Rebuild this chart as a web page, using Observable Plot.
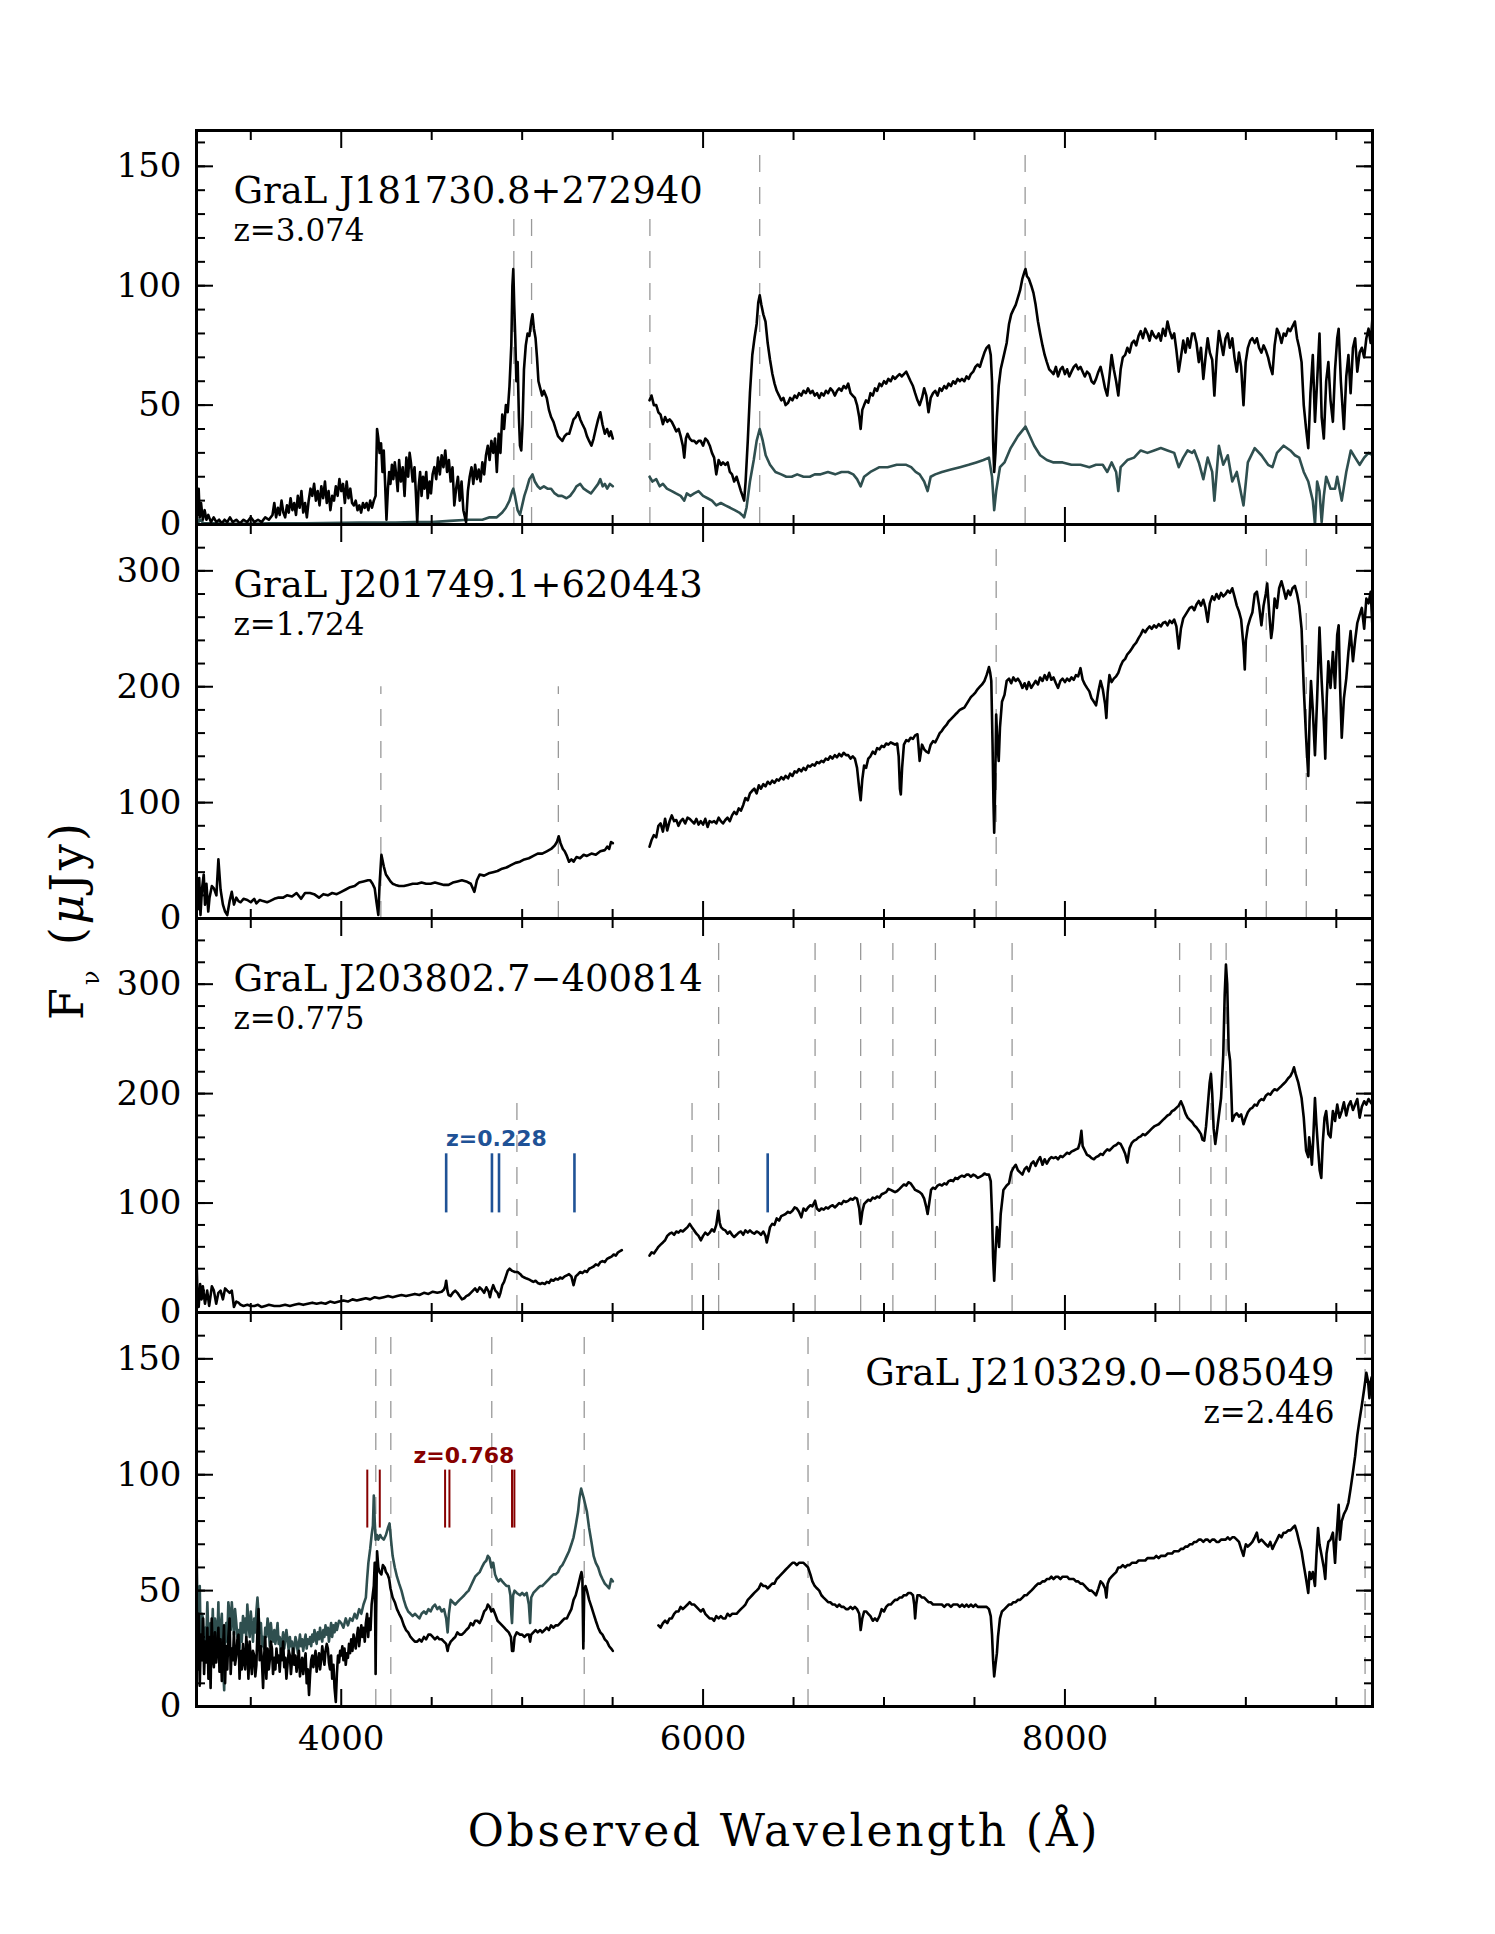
<!DOCTYPE html>
<html><head><meta charset="utf-8">
<script src="https://cdn.jsdelivr.net/npm/d3@7"></script>
<script src="https://cdn.jsdelivr.net/npm/@observablehq/plot@0.6"></script>
<style>
body{margin:0;background:#fff;}
#wrap{position:relative;width:1495px;height:1934px;background:#fff;}
#wrap svg{position:absolute;left:0;overflow:visible;}
.ttl{position:absolute;font-family:"DejaVu Serif";color:#000;white-space:nowrap;}
</style></head><body><div id="wrap">
<div class="ttl" id="xtitle" style="left:196px;top:1809px;width:1176px;text-align:center;font-size:44px;line-height:1;letter-spacing:2.8px;"></div>
<div style="position:absolute;left:73px;top:920px;width:0;height:0;"><div class="ttl" id="ytitle" style="left:0;top:0;font-size:46px;line-height:1;letter-spacing:3px;transform:translate(-50%,-50%) rotate(-90deg);"></div></div>
</div>
<script>
// ---------- text ----------
const xTitle = "Observed Wavelength (Å)";
const names = ["GraL J181730.8+272940", "GraL J201749.1+620443", "GraL J203802.7\u2212400814", "GraL J210329.0\u2212085049"];
const redshifts = ["z=3.074", "z=1.724", "z=0.775", "z=2.446"];

// ---------- axes ----------
const xDomain = [3200, 9700];
const xMajor = [4000, 6000, 8000];
const xMinor = [3500, 4500, 5000, 5500, 6500, 7000, 7500, 8500, 9000, 9500];
const yMax = [165, 340, 360, 170];
const yMajor = [[0, 50, 100, 150], [0, 100, 200, 300], [0, 100, 200, 300], [0, 50, 100, 150]];
const yMinorStep = [10, 20, 20, 10];

// ---------- dashed emission-line markers (wavelength, top flux) ----------
const p1DashWave = [4954, 5052, 5706, 6313, 7780];
const p1DashTop  = [130, 130, 130, 160, 160];
const p2DashWave = [4219, 5200, 7620, 9113, 9334];
const p2DashTop  = [200, 200, 328, 328, 328];
const p3DashWave = [4971, 5939, 6086, 6619, 6871, 7049, 7284, 7708, 8634, 8807, 8891];
const p3DashTop  = [197, 197, 347, 347, 347, 347, 347, 347, 347, 347, 347];
const p4DashWave = [4191, 4274, 4832, 5343, 6580, 9659];
const p4DashTop  = [164, 164, 164, 164, 164, 164];

// ---------- intervening absorber markers ----------
const absBlueWave = [4580, 4833, 4872, 5289, 6357];
const absBlueSpan = [91, 145];
const absBlueLabel = {w: 4858, f: 152, t: "z=0.228"};
const absRedWave = [4144, 4213, 4574, 4598, 4944, 4957];
const absRedSpan = [77, 102];
const absRedLabel = {w: 4678, f: 105, t: "z=0.768"};

// ---------- spectra: [wavelength, flux, ...] ----------
const p1BlackBlue = [3200,12,3205,4,3212,15,3218,3,3225,9,3235,2,3245,6,3255,2,3265,4,3280,1,3295,3,3310,1,3325,2,3340,0.5,3355,2,3370,1,3385,3,3400,1,3420,2,3440,0.5,3460,2,3480,1,3500,3,3520,1,3540,2,3560,1,3580,3,3600,2,3620,4,3630,9,3640,3,3650,7,3660,4,3670,10,3680,5,3690,3,3700,8,3710,5,3720,11,3730,6,3740,9,3750,4,3760,12,3770,7,3780,14,3790,5,3800,9,3810,3,3820,10,3830,15,3840,12,3850,17,3860,10,3870,14,3880,8,3890,16,3900,11,3910,18,3920,9,3930,14,3940,6,3950,12,3960,10,3970,16,3980,12,3990,19,4000,14,4010,17,4020,9,4030,18,4040,11,4050,15,4060,9,4070,8,4080,10,4090,6,4100,8,4110,5,4120,9,4130,7,4140,9,4150,6,4160,10,4170,7,4180,10,4190,12,4198,40,4205,36,4212,30,4220,34,4228,22,4235,31,4242,18,4250,2,4258,15,4265,22,4272,17,4280,25,4288,19,4296,26,4305,20,4312,14,4320,27,4330,18,4340,24,4350,12,4360,28,4370,20,4378,30,4385,26,4395,18,4405,24,4412,14,4420,1,4428,16,4436,22,4444,12,4452,20,4460,15,4470,22,4478,11,4488,18,4496,13,4505,21,4515,24,4525,19,4535,28,4545,21,4555,29,4565,24,4575,31,4585,22,4595,27,4605,18,4615,24,4625,8,4635,15,4645,20,4655,10,4665,18,4675,6,4690,1,4700,14,4710,20,4720,24,4730,17,4740,25,4750,19,4760,23,4770,18,4780,26,4790,21,4800,29,4810,33,4820,27,4830,35,4840,30,4850,36,4860,22,4870,38,4880,30,4890,46,4900,40,4910,50,4920,47,4930,58,4940,75,4946,100,4951,107,4956,92,4962,78,4968,60,4975,68,4982,45,4988,33,4995,31,5002,42,5010,65,5020,75,5030,80,5040,79,5050,85,5057,88,5065,82,5074,78,5082,70,5090,60,5100,57,5110,54,5120,56,5136,53,5148,48,5160,45,5173,43,5185,40,5198,37,5210,36,5222,35,5235,37,5248,38,5260,38,5272,41,5284,44,5296,45,5309,47,5321,44,5333,42,5346,40,5358,37,5370,35,5383,33,5395,36,5407,40,5420,44,5432,47,5444,42,5457,38,5469,40,5481,37,5490,39,5501,36];
const p1BlackRed = [5704,52,5715,54,5728,50,5741,50,5753,47,5765,46,5778,42,5790,45,5802,43,5815,44,5827,43,5840,41,5852,39,5865,40,5876,37,5888,33,5896,28,5905,36,5914,38,5926,36,5938,35,5951,35,5963,34,5975,35,5987,35,6000,33,6012,36,6025,35,6037,33,6049,30,6061,28,6073,21,6086,27,6099,25,6110,26,6123,25,6136,26,6148,22,6160,21,6172,18,6185,20,6197,17,6209,14,6218,12,6227,10,6235,18,6247,35,6259,55,6272,71,6284,78,6296,84,6305,93,6313,96,6322,92,6333,88,6345,85,6357,76,6370,69,6383,63,6395,59,6407,56,6420,54,6432,52,6444,53,6456,50,6470,51,6481,53,6494,52,6506,54,6518,53,6530,55,6543,54,6555,56,6568,55,6580,57,6593,55,6605,56,6617,54,6630,55,6642,53,6654,55,6667,54,6679,56,6691,55,6704,57,6716,56,6728,54,6741,56,6752,57,6765,56,6777,58,6790,57,6802,59,6815,55,6827,54,6839,53,6851,50,6863,45,6871,40,6880,48,6890,50,6901,52,6913,51,6925,55,6938,54,6950,57,6962,56,6975,59,6987,58,7000,60,7012,59,7024,61,7037,60,7049,62,7061,61,7073,62,7086,63,7098,62,7110,63,7123,64,7135,62,7147,60,7160,58,7172,55,7185,52,7197,50,7210,53,7222,57,7234,54,7246,47,7258,53,7271,55,7283,56,7296,54,7308,57,7320,56,7333,58,7345,57,7357,59,7370,58,7382,60,7394,59,7407,61,7419,60,7431,61,7444,60,7456,62,7468,61,7480,63,7493,64,7505,66,7518,67,7530,66,7542,69,7555,72,7567,74,7580,75,7590,71,7597,60,7603,35,7609,22,7616,30,7624,45,7634,58,7645,65,7660,70,7678,76,7691,84,7703,88,7715,90,7728,92,7740,95,7752,98,7765,103,7777,106,7782,107,7790,104,7800,103,7814,100,7826,97,7838,92,7851,85,7863,80,7876,75,7888,71,7900,68,7913,65,7925,64,7937,63,7950,66,7962,62,7975,65,7987,66,8000,63,8012,65,8024,62,8036,64,8049,66,8061,67,8073,65,8086,66,8098,64,8110,62,8122,64,8135,63,8147,60,8160,59,8172,61,8185,64,8197,66,8209,62,8222,57,8234,54,8246,62,8258,71,8270,65,8283,60,8295,54,8308,65,8320,70,8333,71,8345,74,8357,72,8370,76,8382,77,8394,75,8407,79,8419,81,8431,78,8444,82,8456,80,8468,77,8480,81,8493,79,8505,78,8518,80,8530,77,8542,82,8555,79,8567,85,8579,81,8592,78,8604,80,8616,73,8629,64,8641,70,8654,77,8666,72,8678,78,8690,74,8703,80,8715,80,8727,76,8740,68,8752,74,8765,61,8777,70,8789,78,8801,72,8814,69,8826,54,8838,70,8851,81,8863,76,8875,71,8888,78,8900,80,8912,74,8925,78,8937,70,8950,64,8962,72,8974,66,8987,50,8999,68,9011,74,9024,77,9036,78,9049,76,9061,78,9073,74,9086,72,9098,75,9110,73,9123,70,9135,66,9147,63,9159,75,9172,82,9184,80,9197,76,9209,80,9221,79,9234,82,9246,81,9258,83,9271,85,9283,78,9295,74,9308,68,9320,50,9333,40,9345,32,9357,55,9370,71,9382,43,9394,60,9407,80,9419,45,9431,36,9444,60,9456,68,9468,52,9481,43,9493,65,9505,78,9513,82,9525,60,9542,40,9555,62,9567,71,9579,55,9592,74,9604,78,9616,64,9629,72,9641,74,9654,70,9666,78,9678,82,9690,76,9700,87];
const p1TealBlue = [3200,4,3210,1,3220,2,3240,0.5,3300,0.5,3400,0.3,3500,0.3,3600,0.5,3700,0.5,3800,0.5,3900,0.6,4000,0.7,4100,0.8,4200,0.8,4300,0.8,4400,1,4500,1,4600,1.5,4700,2,4780,2,4820,3,4860,3,4890,5,4910,7,4930,10,4945,14,4951,15,4960,12,4975,6,4988,4,5000,8,5012,12,5025,15,5040,19,5057,21,5070,18,5086,16,5100,15,5120,16,5140,15,5160,15,5180,13,5200,12,5220,12,5245,11,5265,12,5285,14,5300,16,5321,17,5340,15,5360,14,5380,13,5400,15,5420,17,5432,19,5445,16,5457,17,5470,15,5485,17,5501,16];
const p1TealRed = [5704,20,5720,18,5741,19,5760,16,5778,17,5800,15,5827,14,5850,13,5876,12,5896,10,5910,13,5930,12,5951,13,5975,14,6000,12,6025,11,6049,10,6073,8,6098,9,6123,8,6150,7,6175,6,6200,5,6215,4,6227,3,6240,7,6259,18,6280,27,6296,35,6313,40,6330,35,6346,29,6370,25,6400,22,6432,21,6460,20,6490,20,6520,21,6555,20,6590,20,6617,21,6650,21,6690,22,6730,21,6765,22,6802,22,6830,21,6851,19,6871,16,6890,20,6925,22,6975,24,7020,24,7070,25,7123,25,7150,24,7175,22,7197,21,7222,18,7241,14,7258,20,7283,21,7320,22,7370,23,7420,24,7468,25,7510,26,7550,27,7580,28,7597,20,7609,6,7620,14,7641,24,7666,26,7700,32,7740,37,7782,41,7800,38,7830,33,7863,29,7900,27,7937,26,7987,26,8036,25,8086,25,8135,24,8172,25,8209,25,8234,22,8258,26,8283,22,8295,14,8308,24,8345,27,8382,28,8419,31,8456,30,8493,31,8530,32,8567,31,8604,30,8629,24,8654,28,8678,31,8703,30,8715,31,8740,26,8765,19,8789,28,8814,22,8826,10,8851,33,8875,25,8900,29,8925,18,8950,22,8987,8,9011,26,9049,32,9086,29,9123,25,9147,24,9172,30,9209,33,9246,31,9271,29,9295,28,9320,22,9345,18,9370,10,9382,0,9394,18,9407,14,9419,1,9431,12,9444,20,9468,15,9493,15,9505,20,9530,10,9555,22,9580,31,9604,28,9629,25,9654,28,9678,30,9700,29];

const p2BlackBlue = [3200,40,3208,8,3215,35,3222,3,3230,25,3240,38,3247,12,3255,30,3265,6,3272,18,3285,28,3296,26,3310,20,3321,51,3333,25,3346,12,3358,6,3370,3,3383,15,3395,23,3407,12,3420,18,3432,15,3444,14,3460,17,3481,16,3500,14,3519,17,3531,13,3550,16,3568,15,3590,14,3605,15,3630,17,3650,18,3679,18,3700,20,3728,19,3753,22,3778,17,3800,22,3827,22,3850,21,3877,18,3901,21,3926,20,3950,22,3975,21,4000,23,4025,25,4049,27,4074,28,4099,31,4123,32,4148,33,4160,33,4173,30,4185,26,4195,14,4205,3,4212,30,4222,55,4235,45,4247,38,4260,35,4272,32,4284,30,4300,29,4320,28,4346,28,4370,29,4395,30,4420,30,4444,31,4469,30,4494,30,4518,31,4543,30,4568,29,4593,29,4617,31,4642,32,4667,33,4691,32,4716,30,4736,23,4750,33,4765,38,4790,37,4815,39,4839,40,4864,41,4889,43,4913,44,4938,46,4963,48,4988,49,5012,51,5037,52,5062,54,5086,56,5111,56,5136,58,5160,60,5180,63,5192,66,5202,71,5212,65,5225,60,5235,58,5247,54,5259,49,5272,51,5284,49,5300,53,5320,52,5340,55,5358,54,5383,56,5407,55,5432,58,5457,59,5470,62,5481,60,5491,66,5501,65];
const p2BlackRed = [5704,62,5716,68,5728,72,5741,70,5753,80,5765,82,5778,75,5790,86,5802,76,5815,84,5827,89,5840,84,5852,85,5864,80,5876,84,5888,86,5901,82,5914,87,5926,86,5938,84,5951,82,5963,86,5975,81,5987,84,6000,81,6012,86,6025,79,6036,84,6049,83,6061,84,6073,82,6086,87,6098,84,6110,82,6123,85,6135,87,6148,84,6160,89,6172,92,6185,90,6197,95,6209,93,6222,98,6234,104,6247,102,6259,108,6270,110,6283,112,6296,108,6308,115,6320,112,6333,116,6345,114,6357,118,6370,116,6382,119,6394,117,6407,120,6419,119,6432,122,6444,120,6456,123,6470,121,6481,125,6494,123,6506,127,6518,126,6530,129,6543,127,6555,130,6567,128,6580,132,6592,131,6604,133,6617,132,6629,135,6641,134,6654,136,6666,135,6678,138,6691,137,6703,140,6715,138,6728,141,6740,139,6752,142,6765,140,6777,143,6790,141,6802,141,6815,138,6827,140,6839,138,6851,130,6863,112,6871,102,6880,120,6890,132,6901,130,6913,138,6925,140,6938,144,6950,142,6962,147,6975,146,6987,149,7000,148,7012,151,7024,150,7037,152,7049,151,7061,150,7073,151,7081,140,7088,112,7093,107,7100,130,7110,150,7123,154,7135,153,7147,156,7160,155,7172,158,7185,159,7190,150,7197,136,7210,150,7222,146,7234,144,7246,143,7258,150,7271,153,7283,152,7296,156,7308,160,7320,162,7333,165,7345,167,7357,170,7370,172,7382,174,7394,176,7407,178,7419,180,7431,181,7444,182,7456,185,7468,188,7480,191,7493,193,7505,195,7518,198,7530,200,7542,202,7555,205,7567,210,7575,214,7580,217,7587,212,7593,205,7600,150,7605,100,7609,74,7614,110,7620,176,7627,150,7634,136,7641,165,7652,187,7666,193,7678,205,7691,207,7703,203,7715,208,7728,205,7740,207,7752,204,7765,199,7777,203,7789,198,7800,204,7814,199,7826,202,7838,205,7851,202,7863,208,7876,205,7888,210,7900,206,7913,212,7925,206,7937,208,7950,203,7962,199,7975,205,7987,207,8000,204,8012,207,8024,205,8036,208,8049,206,8061,210,8073,209,8086,216,8098,206,8110,202,8122,199,8135,196,8147,190,8160,187,8172,184,8185,196,8197,205,8209,198,8222,185,8229,173,8236,195,8246,210,8258,204,8270,207,8283,209,8295,212,8308,218,8320,222,8333,224,8345,228,8357,230,8370,233,8382,236,8394,238,8407,242,8419,245,8431,249,8444,247,8456,250,8468,252,8480,250,8493,253,8505,251,8518,254,8530,252,8542,255,8555,256,8567,253,8579,257,8592,255,8604,258,8616,252,8629,233,8641,250,8654,259,8666,262,8678,265,8690,268,8703,269,8715,266,8727,271,8740,274,8752,270,8765,275,8777,268,8789,256,8801,272,8814,278,8826,275,8838,280,8851,276,8863,281,8875,278,8888,280,8900,283,8912,281,8925,285,8937,278,8950,270,8962,265,8974,258,8987,235,8994,215,9000,240,9011,252,9024,259,9036,264,9049,280,9061,282,9073,270,9086,253,9098,270,9110,280,9118,289,9130,262,9140,242,9147,250,9159,276,9172,268,9184,285,9197,291,9209,284,9221,276,9234,283,9246,279,9258,285,9271,287,9283,280,9295,270,9308,250,9320,199,9333,156,9345,123,9352,170,9360,205,9370,180,9382,141,9394,190,9407,251,9419,205,9431,170,9439,138,9447,190,9456,222,9468,199,9481,230,9493,199,9505,245,9513,253,9521,200,9530,156,9542,190,9555,207,9567,230,9579,248,9592,222,9604,240,9616,255,9629,262,9641,268,9654,250,9666,276,9678,272,9690,282,9700,251];

const p3BlackBlue = [3200,50,3206,10,3212,5,3220,26,3228,12,3235,24,3247,8,3259,20,3270,6,3285,24,3296,20,3309,8,3321,18,3333,20,3346,12,3358,22,3370,20,3383,18,3395,20,3407,5,3420,10,3432,9,3444,7,3460,6,3481,7,3500,6,3520,6,3540,7,3560,5,3580,6,3600,7,3630,6,3660,6,3690,7,3716,6,3741,7,3766,8,3790,7,3815,8,3840,9,3864,8,3889,9,3913,8,3938,10,3963,9,3988,10,4012,11,4037,10,4062,12,4086,11,4111,12,4136,13,4160,12,4185,14,4210,13,4235,14,4259,15,4284,14,4309,15,4333,16,4358,15,4383,16,4407,17,4432,16,4457,18,4482,17,4506,19,4531,18,4555,19,4568,21,4575,24,4580,29,4587,20,4593,16,4605,15,4617,18,4630,20,4642,18,4654,15,4667,12,4680,13,4691,15,4704,16,4716,18,4728,20,4740,22,4752,19,4765,23,4777,21,4790,18,4802,23,4815,19,4822,14,4830,20,4840,25,4852,20,4864,18,4872,14,4880,18,4890,25,4900,28,4910,33,4920,38,4931,40,4945,38,4960,37,4975,37,4990,35,5000,33,5012,32,5025,31,5040,30,5050,29,5062,28,5074,29,5086,27,5100,26,5111,27,5125,26,5136,28,5148,27,5160,30,5173,29,5185,31,5198,30,5210,32,5222,31,5235,33,5247,34,5259,35,5272,33,5284,25,5296,33,5309,35,5321,37,5333,36,5346,38,5358,37,5370,40,5383,41,5395,42,5407,44,5420,43,5432,46,5444,47,5457,46,5469,49,5481,50,5494,51,5506,53,5518,52,5530,55,5541,56,5551,57];
const p3BlackRed = [5704,52,5716,55,5728,54,5741,57,5753,60,5765,62,5778,64,5790,66,5802,70,5815,72,5827,73,5840,71,5852,74,5864,73,5876,75,5888,74,5901,76,5914,78,5926,81,5938,78,5951,75,5963,72,5975,70,5988,66,6000,70,6012,73,6025,71,6037,73,6049,76,6061,74,6073,80,6084,93,6092,82,6099,78,6111,76,6123,75,6136,72,6148,74,6160,71,6172,69,6185,71,6197,73,6209,74,6222,71,6234,75,6247,73,6259,75,6272,73,6283,72,6296,74,6308,73,6320,71,6333,74,6345,70,6352,64,6360,70,6370,78,6382,81,6394,80,6407,86,6420,84,6432,88,6444,89,6456,90,6469,92,6481,91,6494,93,6506,96,6518,95,6530,92,6543,87,6555,95,6568,93,6580,96,6593,98,6604,97,6619,102,6629,95,6642,93,6654,95,6667,94,6679,96,6691,95,6703,97,6716,98,6728,96,6741,98,6752,100,6765,99,6777,102,6790,101,6802,102,6815,104,6827,103,6839,105,6851,104,6863,95,6871,81,6880,92,6890,99,6901,101,6913,103,6925,102,6938,105,6950,104,6962,106,6975,105,6987,108,7000,109,7012,110,7024,113,7037,112,7049,111,7061,110,7073,111,7086,113,7098,115,7110,117,7123,116,7135,119,7147,118,7160,115,7172,112,7185,111,7197,110,7210,108,7222,104,7234,96,7241,90,7250,100,7260,112,7271,114,7283,113,7296,116,7308,117,7320,116,7333,118,7345,117,7357,120,7370,121,7382,120,7394,123,7407,122,7419,124,7431,125,7444,124,7456,126,7468,126,7480,124,7493,126,7505,125,7518,123,7530,124,7542,125,7555,127,7567,126,7580,126,7590,120,7597,90,7603,50,7609,29,7616,55,7624,78,7630,72,7636,60,7645,90,7660,112,7678,116,7691,118,7703,128,7715,132,7728,135,7740,130,7752,128,7765,126,7777,131,7789,133,7800,129,7814,136,7826,138,7838,134,7851,139,7863,142,7876,135,7888,140,7900,136,7913,140,7925,142,7937,141,7950,142,7962,140,7975,143,7987,142,8000,144,8012,146,8024,145,8036,147,8049,148,8061,149,8073,150,8082,155,8091,166,8098,152,8110,148,8122,144,8135,143,8147,141,8160,140,8172,142,8185,143,8197,145,8209,144,8222,147,8234,149,8246,148,8258,150,8270,152,8283,153,8295,155,8308,154,8320,150,8333,145,8345,137,8357,150,8370,155,8382,157,8394,158,8407,160,8419,161,8431,163,8444,162,8456,164,8468,166,8480,168,8493,170,8505,171,8518,172,8530,174,8542,176,8555,178,8567,180,8579,181,8592,184,8604,185,8616,187,8629,189,8641,193,8654,188,8666,182,8678,178,8690,176,8703,174,8715,171,8727,169,8740,166,8752,163,8760,158,8770,157,8780,170,8790,190,8800,210,8807,218,8814,200,8822,168,8831,154,8840,165,8851,180,8863,196,8875,235,8883,290,8890,318,8897,300,8905,240,8913,230,8920,200,8925,175,8937,180,8950,182,8962,179,8974,181,8987,172,8999,178,9011,183,9024,186,9036,187,9049,190,9061,189,9073,193,9086,195,9098,194,9110,198,9123,200,9135,199,9147,202,9159,204,9172,203,9184,205,9197,207,9209,209,9221,211,9234,214,9246,216,9258,220,9266,224,9275,218,9290,210,9308,196,9320,178,9333,148,9345,142,9350,160,9357,150,9365,135,9372,157,9382,196,9390,172,9399,150,9408,130,9417,123,9425,155,9435,178,9444,184,9456,163,9468,160,9481,184,9493,175,9505,190,9518,178,9530,184,9542,192,9555,180,9567,189,9579,193,9592,185,9604,190,9616,195,9629,178,9641,188,9654,193,9666,190,9678,195,9690,192,9700,190];

const p4BlackBlue = [3200,52,3206,16,3212,40,3218,9,3224,31,3230,20,3236,38,3242,14,3248,28,3254,19,3260,34,3266,12,3272,30,3278,8,3284,38,3290,22,3296,17,3302,32,3309,19,3315,26,3321,34,3327,15,3333,29,3340,11,3346,24,3352,35,3358,10,3364,26,3370,16,3376,30,3383,38,3389,14,3395,25,3401,20,3407,32,3413,18,3420,22,3426,29,3432,31,3438,12,3444,24,3450,16,3457,27,3463,19,3469,16,3475,30,3481,25,3487,12,3494,28,3500,20,3506,14,3512,24,3519,22,3525,13,3531,18,3537,33,3543,42,3549,20,3556,26,3562,19,3568,8,3574,22,3580,30,3586,12,3593,25,3600,16,3605,20,3611,28,3617,25,3623,14,3630,21,3636,16,3642,25,3648,19,3654,22,3660,15,3667,25,3673,20,3679,28,3685,17,3691,21,3697,12,3704,19,3710,24,3716,22,3722,14,3728,20,3734,25,3741,18,3747,22,3753,15,3760,20,3766,24,3772,13,3778,18,3784,21,3790,14,3796,19,3803,23,3809,10,3815,16,3822,5,3828,14,3834,20,3840,22,3846,17,3852,21,3858,24,3864,15,3870,19,3877,23,3883,16,3889,20,3895,26,3901,22,3907,18,3913,24,3920,27,3926,25,3932,19,3938,16,3944,22,3950,12,3957,18,3963,8,3970,2,3976,14,3982,22,3988,19,3994,24,4000,22,4006,26,4012,20,4018,25,4025,18,4031,23,4037,21,4043,27,4049,23,4055,29,4062,24,4068,31,4074,28,4080,25,4086,30,4093,34,4099,26,4105,31,4111,35,4117,30,4123,34,4130,28,4136,36,4143,40,4149,30,4155,38,4162,33,4168,44,4174,48,4180,52,4185,62,4188,35,4190,14,4193,40,4198,67,4205,60,4212,58,4222,57,4230,61,4240,60,4247,58,4256,57,4265,55,4272,51,4284,47,4296,45,4308,42,4320,40,4333,38,4346,35,4358,33,4370,32,4383,30,4395,29,4407,28,4420,28,4432,29,4444,28,4457,30,4469,29,4482,31,4494,31,4506,30,4518,29,4531,30,4543,29,4555,29,4568,28,4580,27,4588,24,4593,26,4605,28,4617,29,4630,30,4642,32,4654,31,4667,31,4680,32,4691,33,4704,34,4716,36,4728,35,4740,37,4752,37,4765,36,4777,38,4790,41,4802,42,4810,44,4820,43,4830,41,4840,42,4850,40,4864,37,4877,36,4889,35,4901,34,4913,33,4926,32,4938,30,4944,24,4951,24,4958,30,4970,32,4988,31,5000,31,5012,30,5025,31,5037,31,5044,28,5050,31,5062,32,5074,33,5086,32,5100,33,5111,32,5124,33,5136,34,5148,33,5160,35,5173,34,5185,35,5198,35,5210,36,5222,37,5235,38,5247,38,5259,40,5272,42,5284,46,5296,48,5309,52,5321,56,5328,58,5333,55,5338,25,5343,50,5350,52,5358,50,5370,46,5383,43,5395,40,5407,37,5420,34,5432,32,5444,31,5457,29,5469,28,5481,26,5492,25,5501,24];
const p4BlackRed = [5753,35,5765,34,5778,36,5790,37,5802,36,5815,38,5827,38,5840,40,5852,41,5864,41,5876,43,5888,42,5901,43,5914,44,5926,45,5938,44,5951,44,5963,43,5975,42,5988,41,6000,42,6012,40,6024,39,6036,38,6049,38,6061,37,6073,39,6086,38,6098,39,6110,38,6123,38,6135,40,6148,39,6160,40,6172,40,6185,40,6197,41,6209,42,6222,43,6234,44,6247,46,6259,47,6271,48,6283,49,6296,50,6308,51,6320,53,6333,52,6345,52,6357,51,6370,52,6382,53,6394,53,6407,55,6420,56,6432,57,6444,58,6456,59,6469,60,6481,61,6494,62,6506,62,6518,61,6530,62,6543,62,6555,62,6568,61,6580,60,6593,57,6604,54,6617,52,6629,51,6642,50,6654,48,6666,47,6679,46,6691,45,6703,45,6716,44,6728,44,6741,43,6752,44,6765,43,6777,43,6790,42,6802,42,6815,43,6827,42,6839,43,6851,42,6863,40,6871,33,6880,38,6890,41,6901,41,6913,40,6925,39,6938,37,6950,38,6962,37,6975,39,6987,42,7000,41,7012,43,7024,44,7037,44,7049,45,7061,46,7073,46,7086,47,7098,47,7110,48,7123,48,7135,49,7147,49,7160,48,7167,44,7172,38,7178,44,7185,48,7197,48,7210,47,7222,47,7234,46,7246,45,7258,45,7271,44,7283,44,7296,44,7308,44,7320,44,7333,43,7345,44,7357,44,7370,43,7382,44,7394,44,7407,44,7419,43,7431,44,7444,43,7456,44,7468,43,7480,44,7493,43,7505,44,7518,43,7530,43,7542,43,7555,43,7567,43,7580,42,7590,39,7597,31,7603,20,7609,13,7616,18,7624,23,7630,30,7641,38,7652,41,7666,42,7678,43,7691,44,7703,44,7715,45,7728,45,7740,46,7752,46,7765,47,7777,48,7789,48,7800,49,7814,50,7826,51,7838,52,7851,53,7863,53,7876,54,7888,54,7900,55,7913,55,7925,56,7937,55,7950,56,7962,56,7975,55,7987,56,8000,56,8012,56,8024,55,8036,55,8049,55,8061,54,8073,54,8086,53,8098,53,8110,52,8122,51,8135,50,8147,50,8160,49,8172,48,8185,51,8197,54,8209,53,8222,51,8229,47,8236,53,8246,55,8258,56,8270,57,8283,58,8295,60,8308,60,8320,61,8333,60,8345,61,8357,61,8370,62,8382,62,8394,62,8407,63,8419,63,8431,63,8444,63,8456,64,8468,64,8480,64,8493,64,8505,65,8518,64,8530,65,8542,65,8555,65,8567,66,8579,66,8592,66,8604,67,8616,67,8629,67,8641,68,8654,68,8666,69,8678,69,8690,70,8703,70,8715,71,8727,71,8740,72,8752,72,8765,71,8777,72,8789,72,8801,71,8814,72,8826,72,8838,71,8851,71,8863,72,8875,72,8888,72,8900,73,8912,72,8925,73,8937,73,8950,72,8962,71,8974,68,8987,65,8994,68,9000,70,9011,69,9024,70,9036,71,9049,73,9061,75,9068,72,9073,71,9086,72,9098,71,9110,70,9123,69,9135,71,9147,68,9159,70,9172,72,9184,74,9197,73,9209,75,9221,75,9234,76,9246,76,9258,77,9271,78,9283,75,9295,71,9308,67,9320,61,9333,55,9345,49,9352,58,9360,55,9370,58,9382,52,9390,65,9399,77,9407,70,9419,65,9431,60,9439,55,9446,66,9456,71,9468,72,9481,75,9493,62,9500,72,9507,80,9513,87,9520,72,9530,80,9542,83,9555,85,9567,88,9579,94,9590,100,9604,108,9616,117,9629,124,9641,130,9654,137,9666,144,9676,140,9683,133,9690,140,9695,142,9700,138];
const p4TealBlue = [3200,70,3205,45,3212,31,3218,52,3224,23,3230,40,3236,38,3242,22,3248,34,3254,28,3260,45,3266,30,3272,15,3278,36,3284,26,3290,42,3296,22,3302,38,3309,34,3315,28,3321,45,3327,20,3333,34,3340,40,3346,18,3353,7,3358,30,3364,36,3370,28,3376,45,3383,40,3389,33,3395,45,3401,38,3407,31,3413,42,3420,36,3426,30,3432,33,3438,25,3444,36,3450,28,3457,39,3463,32,3469,38,3475,30,3481,44,3487,36,3494,30,3500,41,3506,35,3512,28,3519,38,3525,32,3531,41,3537,47,3543,40,3549,32,3556,36,3562,26,3568,30,3574,25,3580,34,3586,30,3593,38,3600,33,3605,26,3611,36,3617,31,3623,28,3630,33,3636,27,3642,31,3648,36,3654,27,3660,30,3667,22,3673,28,3679,32,3685,25,3691,29,3697,33,3704,28,3710,24,3716,30,3722,26,3728,28,3734,22,3741,26,3747,30,3753,28,3760,23,3766,27,3772,31,3778,26,3784,29,3790,24,3796,28,3803,31,3809,25,3815,29,3822,27,3828,30,3834,26,3840,31,3846,28,3852,33,3858,30,3864,27,3870,32,3877,29,3883,34,3889,30,3895,28,3901,33,3907,30,3913,35,3920,31,3926,34,3932,28,3938,32,3944,36,3950,30,3957,35,3963,32,3970,36,3976,33,3988,37,4000,36,4012,34,4025,38,4037,35,4049,38,4062,37,4074,40,4086,38,4099,42,4111,40,4123,44,4136,47,4143,55,4150,62,4160,68,4168,74,4175,78,4180,91,4185,80,4190,72,4198,74,4205,72,4215,74,4222,73,4235,72,4247,74,4258,77,4267,79,4275,72,4284,65,4296,60,4308,56,4320,53,4333,50,4346,46,4358,43,4370,41,4383,40,4395,39,4407,40,4420,39,4432,38,4444,40,4457,41,4469,40,4482,42,4494,41,4506,43,4518,44,4531,42,4543,43,4555,41,4568,42,4580,38,4588,32,4595,40,4605,46,4617,45,4630,44,4642,45,4654,46,4667,47,4680,48,4691,49,4704,50,4716,52,4728,54,4740,56,4752,57,4765,58,4777,60,4790,62,4802,63,4810,65,4820,64,4830,60,4840,62,4850,57,4860,55,4870,54,4880,55,4890,54,4901,53,4913,52,4926,52,4935,48,4940,40,4944,36,4950,48,4958,50,4970,49,4988,48,5000,49,5012,48,5025,49,5037,44,5044,36,5050,47,5062,49,5074,50,5086,51,5100,52,5111,52,5124,53,5136,54,5148,55,5160,56,5173,57,5185,57,5198,58,5210,60,5222,61,5235,63,5247,65,5259,67,5272,70,5284,73,5296,78,5309,84,5317,90,5326,94,5333,92,5340,90,5346,88,5358,84,5370,77,5383,71,5395,65,5407,62,5420,60,5432,57,5444,55,5457,53,5469,52,5481,51,5492,55,5501,54];

// ---------- styling ----------
const BLACK = "#000000", TEAL = "#2f4f4f", BLUE = "#1f5296", RED = "#870000", DASH = "#999999";
const FRAME_TOP = [130, 524, 918, 1312];
const PANEL_H = 394, ML = 196, MR = 123, MT = 20;

const pts = a => { const o = []; for (let i = 0; i < a.length; i += 2) o.push({w: a[i], f: a[i + 1]}); return o; };
const dashes = (w, t) => w.map((d, i) => ({w: d, top: t[i]}));

const panelDefs = [
  {lines: [[p1TealBlue, TEAL], [p1TealRed, TEAL], [p1BlackBlue, BLACK], [p1BlackRed, BLACK]], dash: dashes(p1DashWave, p1DashTop), right: false},
  {lines: [[p2BlackBlue, BLACK], [p2BlackRed, BLACK]], dash: dashes(p2DashWave, p2DashTop), right: false},
  {lines: [[p3BlackBlue, BLACK], [p3BlackRed, BLACK]], dash: dashes(p3DashWave, p3DashTop), right: false, abs: {wave: absBlueWave, span: absBlueSpan, label: absBlueLabel, color: BLUE, sw: 2.6}},
  {lines: [[p4TealBlue, TEAL], [p4BlackBlue, BLACK], [p4BlackRed, BLACK]], dash: dashes(p4DashWave, p4DashTop), right: true, abs: {wave: absRedWave, span: absRedSpan, label: absRedLabel, color: RED, sw: 2.0}}
];

const wrap = document.getElementById("wrap");
document.getElementById("xtitle").textContent = xTitle;
document.getElementById("ytitle").innerHTML = 'F<sub style="font-size:24px;vertical-align:-16px;">\u03bd</sub><span style="margin-left:22px">(</span><i>\u03bc</i>Jy)';

panelDefs.forEach((p, k) => {
  const last = k === 3;
  const mb = last ? 80 : 20;
  const yMinor = d3.range(0, yMax[k] + 0.001, yMinorStep[k]);
  const marks = [
    Plot.ruleX(p.dash, {x: "w", y1: 0, y2: "top", stroke: DASH, strokeWidth: 1.3, strokeDasharray: "17,15"})
  ];
  if (p.abs) {
    marks.push(Plot.ruleX(p.abs.wave, {x: d => d, y1: p.abs.span[0], y2: p.abs.span[1], stroke: p.abs.color, strokeWidth: p.abs.sw}));
    marks.push(Plot.text([p.abs.label], {x: "w", y: "f", text: "t", fill: p.abs.color, fontFamily: "DejaVu Sans", fontWeight: "bold", fontSize: 22, textAnchor: "middle", lineAnchor: "bottom"}));
  }
  for (const [arr, col] of p.lines) {
    marks.push(Plot.line(pts(arr), {x: "w", y: "f", stroke: col, strokeWidth: 2.6, strokeLinejoin: "round", clip: true}));
  }
  marks.push(Plot.frame({stroke: "#000", strokeWidth: 3}));
  // inward ticks on all four sides
  marks.push(Plot.axisX(xMajor, {anchor: "bottom", tickSize: -17, strokeWidth: 2, tickPadding: 36, fill: last ? "#000" : "none", tickFormat: d => String(d), fontSize: 34, label: null}));
  marks.push(Plot.axisX(xMajor, {anchor: "top", tickSize: -17, strokeWidth: 2, fill: "none", label: null}));
  marks.push(Plot.axisX(xMinor, {anchor: "bottom", tickSize: -9, strokeWidth: 2, fill: "none", label: null}));
  marks.push(Plot.axisX(xMinor, {anchor: "top", tickSize: -9, strokeWidth: 2, fill: "none", label: null}));
  marks.push(Plot.axisY(yMajor[k], {anchor: "left", tickSize: -17, strokeWidth: 2, tickPadding: 32, fontSize: 34, tickFormat: d => String(d), label: null}));
  marks.push(Plot.axisY(yMajor[k], {anchor: "right", tickSize: -17, strokeWidth: 2, fill: "none", label: null}));
  marks.push(Plot.axisY(yMinor, {anchor: "left", tickSize: -9, strokeWidth: 2, fill: "none", label: null}));
  marks.push(Plot.axisY(yMinor, {anchor: "right", tickSize: -9, strokeWidth: 2, fill: "none", label: null}));
  // object name and redshift
  const anchor = p.right ? "top-right" : "top-left";
  const tAnchor = p.right ? "end" : "start";
  const dx = p.right ? -38 : 37;
  marks.push(Plot.text([names[k]], {frameAnchor: anchor, text: d => d, dx, dy: 72, textAnchor: tAnchor, lineAnchor: "bottom", fontSize: 37, fontFamily: "DejaVu Serif", fill: "#000"}));
  marks.push(Plot.text([redshifts[k]], {frameAnchor: anchor, text: d => d, dx, dy: 110, textAnchor: tAnchor, lineAnchor: "bottom", fontSize: 31, fontFamily: "DejaVu Serif", fill: "#000"}));

  const svg = Plot.plot({
    width: 1495,
    height: PANEL_H + MT + mb,
    marginLeft: ML, marginRight: MR, marginTop: MT, marginBottom: mb,
    x: {domain: xDomain, label: null},
    y: {domain: [0, yMax[k]], label: null},
    style: {background: "transparent", overflow: "visible", fontFamily: "DejaVu Serif", fontSize: "34px", color: "#000"},
    marks
  });
  svg.style.top = (FRAME_TOP[k] - MT) + "px";
  svg.style.position = "absolute";
  svg.style.left = "0px";
  wrap.appendChild(svg);
});
</script></body></html>
